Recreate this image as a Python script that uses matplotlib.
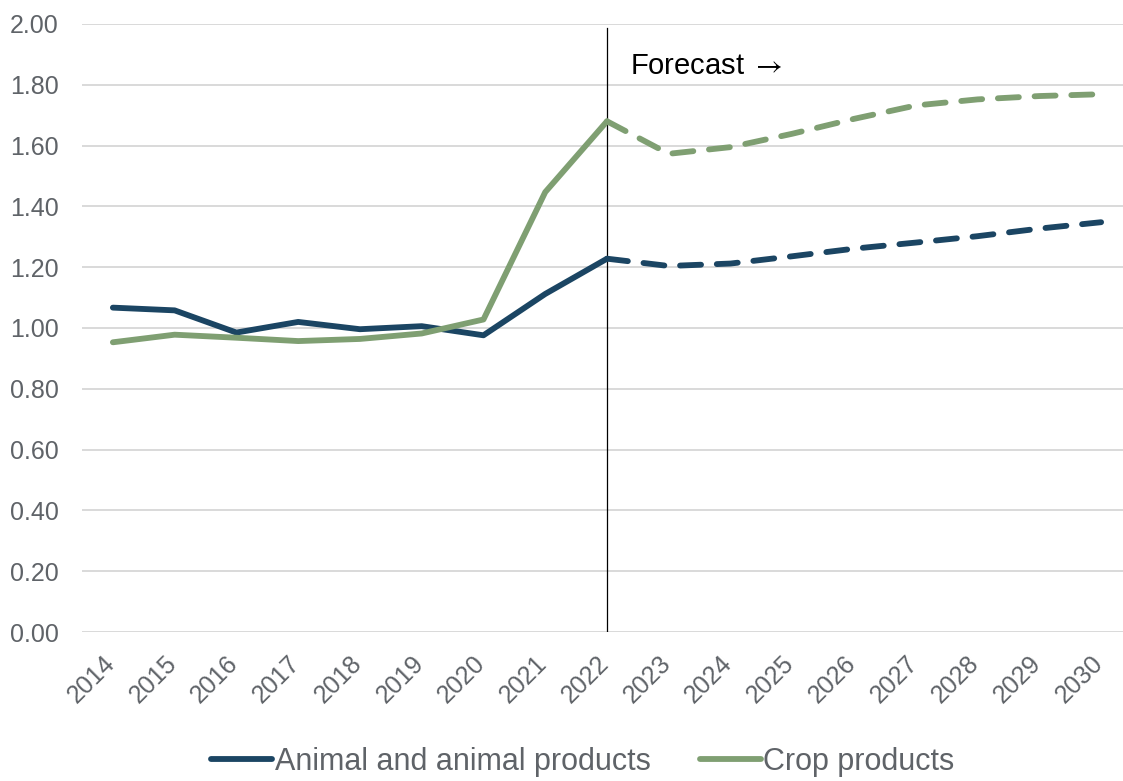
import matplotlib
matplotlib.use('Agg')
import matplotlib.pyplot as plt
import matplotlib.transforms as mtransforms
import numpy as np

# data
years = ['2014', '2015', '2016', '2017', '2018', '2019', '2020', '2021', '2022',
         '2023', '2024', '2025', '2026', '2027', '2028', '2029', '2030']
animal = [1.067, 1.058, 0.985, 1.020, 0.996, 1.006, 0.976, 1.112, 1.228,
          1.204, 1.212, 1.236, 1.261, 1.281, 1.302, 1.327, 1.348]
crop = [0.953, 0.978, 0.968, 0.957, 0.964, 0.982, 1.028, 1.447, 1.680,
        1.573, 1.595, 1.639, 1.688, 1.732, 1.752, 1.763, 1.769]
last_actual = '2022'
y_ticks = [0.0, 0.2, 0.4, 0.6, 0.8, 1.0, 1.2, 1.4, 1.6, 1.8, 2.0]

animal_col = '#1b4563'
crop_col = '#7f9f72'
text_col = '#5f6368'
plt.rcParams['font.family'] = ['Liberation Sans', 'DejaVu Sans']
plt.rcParams['mathtext.fontset'] = 'stix'

W, H = 1123, 781
fig = plt.figure(figsize=(W / 100, H / 100), dpi=100)
# plot area goes a little past the right edge, like the original crop
ax = fig.add_axes([82 / W, 149 / H, 1050 / W, 608 / H])

x = np.arange(len(years))
split = years.index(last_actual)
lw = 4.2
dash = (0, (3.6, 2.7))

ax.plot(x[:split + 1], animal[:split + 1], color=animal_col, lw=lw,
        solid_capstyle='round', solid_joinstyle='round', label='Animal and animal products')
ax.plot(x[split:], animal[split:], color=animal_col, lw=lw, linestyle=dash,
        dash_capstyle='round')
ax.plot(x[:split + 1], crop[:split + 1], color=crop_col, lw=lw,
        solid_capstyle='round', solid_joinstyle='round', label='Crop products')
ax.plot(x[split:], crop[split:], color=crop_col, lw=lw, linestyle=dash,
        dash_capstyle='round')

ax.axvline(split, ymin=0, ymax=0.993, color='black', lw=0.9, zorder=1)
ax.annotate('Forecast $\\rightarrow$', xy=(split, 2.0), xytext=(16.5, -36),
            textcoords='offset points', fontsize=21, color='black', va='baseline')

ax.set_xlim(-0.5, len(years) - 0.5)
ax.set_ylim(0, 2.0)
ax.set_yticks(y_ticks)
ax.set_yticklabels([f'{v:.2f}' for v in y_ticks])
ax.set_xticks(x)
ax.set_xticklabels(years, rotation=45, ha='right', va='center', rotation_mode='anchor')
ax.tick_params(axis='y', length=0, pad=17, labelsize=18, labelcolor=text_col)
ax.tick_params(axis='x', length=0, pad=20, labelsize=18, labelcolor=text_col)
shift = mtransforms.ScaledTranslation(-2 / 100, 0, fig.dpi_scale_trans)
for lab in ax.get_xticklabels():
    lab.set_transform(lab.get_transform() + shift)
ax.grid(axis='y', color='#d9d9d9', lw=1.4)
ax.set_axisbelow(True)
for s in ax.spines.values():
    s.set_visible(False)

fig.legend(loc='center', bbox_to_anchor=(583 / W, 1 - 762 / H), ncol=2, frameon=False,
           fontsize=22, labelcolor=text_col, handlelength=2.0, handletextpad=0.07,
           columnspacing=1.63)

fig.savefig('out.png', dpi=100)
